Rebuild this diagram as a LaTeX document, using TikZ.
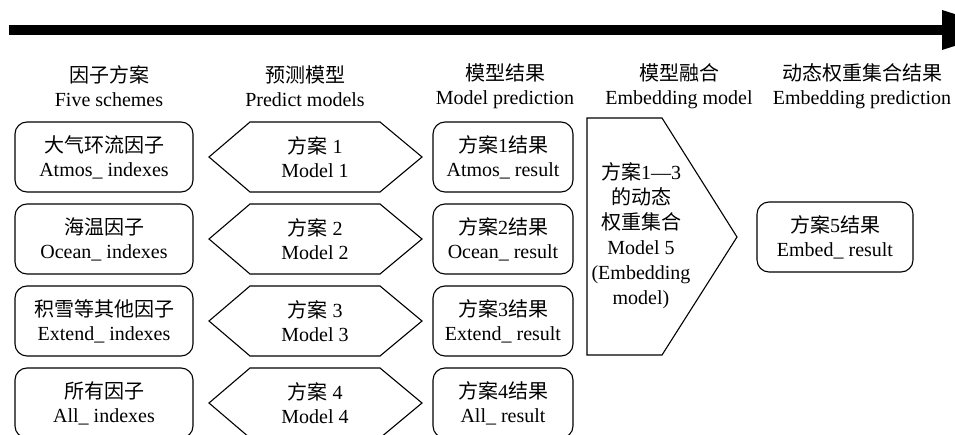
\documentclass[tikz,border=0pt]{standalone}
\usepackage{fontspec}
\setmainfont{Liberation Serif}
\newfontfamily\cjk{Noto Sans CJK SC}
\newcommand{\zh}[1]{{\cjk #1}}

\begin{document}
\begin{tikzpicture}[x=1pt,y=-1pt,font=\fontsize{20}{24}\selectfont,
  card/.style={draw=black,line width=1.1pt,rounded corners=12pt,minimum height=70pt,align=center,inner sep=0pt},
  plain/.style={align=center,inner sep=0pt},
  outline/.style={draw=black,line width=1.1pt,line join=miter}]
\useasboundingbox (0,0) rectangle (955,435);
% time line on top
\fill[black] (9,25) rectangle (944,35);
\fill[black] (942,10) -- (1005,30) -- (942,50) -- cycle;
% column heads
\node[plain] (headfactor) at (109,86) {\zh{因子方案}\\Five schemes};
\node[plain] (headpredict) at (305,86) {\zh{预测模型}\\Predict models};
\node[plain] (headresult) at (505,86) {\zh{模型结果}\\Model prediction};
\node[plain] (headembed) at (679,86) {\zh{模型融合}\\Embedding model};
\node[plain] (headfinal) at (862,86) {\zh{动态权重集合结果}\\Embedding prediction};
% factor schemes
\node[card,minimum width=178pt] (atmos) at (104,157) {\zh{大气环流因子}\\Atmos\_ indexes};
\node[card,minimum width=178pt] (ocean) at (104,239) {\zh{海温因子}\\Ocean\_ indexes};
\node[card,minimum width=178pt] (extend) at (104,321) {\zh{积雪等其他因子}\\Extend\_ indexes};
\node[card,minimum width=178pt] (all) at (104,403) {\zh{所有因子}\\All\_ indexes};
% predict models
\draw[outline] (209,157) -- (250,122) -- (380,122) -- (422,157) -- (380,192) -- (250,192) -- cycle;
\node[plain] (model1) at (315,157) {\zh{方案} 1\\Model 1};
\draw[outline] (209,239) -- (250,204) -- (380,204) -- (422,239) -- (380,274) -- (250,274) -- cycle;
\node[plain] (model2) at (315,239) {\zh{方案} 2\\Model 2};
\draw[outline] (209,321) -- (250,286) -- (380,286) -- (422,321) -- (380,356) -- (250,356) -- cycle;
\node[plain] (model3) at (315,321) {\zh{方案} 3\\Model 3};
\draw[outline] (209,403) -- (250,368) -- (380,368) -- (422,403) -- (380,438) -- (250,438) -- cycle;
\node[plain] (model4) at (315,403) {\zh{方案} 4\\Model 4};
% model results
\node[card,minimum width=140pt] (atmosres) at (503,157) {\zh{方案}1\zh{结果}\\Atmos\_ result};
\node[card,minimum width=140pt] (oceanres) at (503,239) {\zh{方案}2\zh{结果}\\Ocean\_ result};
\node[card,minimum width=140pt] (extendres) at (503,321) {\zh{方案}3\zh{结果}\\Extend\_ result};
\node[card,minimum width=140pt] (allres) at (503,403) {\zh{方案}4\zh{结果}\\All\_ result};
% embedding model
\draw[outline] (587,118) -- (662,118) -- (737,237) -- (662,355) -- (587,355) -- cycle;
\node[plain,font=\fontsize{20}{25}\selectfont] (model5) at (641,236) {\zh{方案}1—3\\\zh{的动态}\\\zh{权重集合}\\Model 5\\(Embedding\\model)};
% embedding result
\node[card,minimum width=156pt] (embedres) at (835,237) {\zh{方案}5\zh{结果}\\Embed\_ result};
\end{tikzpicture}
\end{document}
